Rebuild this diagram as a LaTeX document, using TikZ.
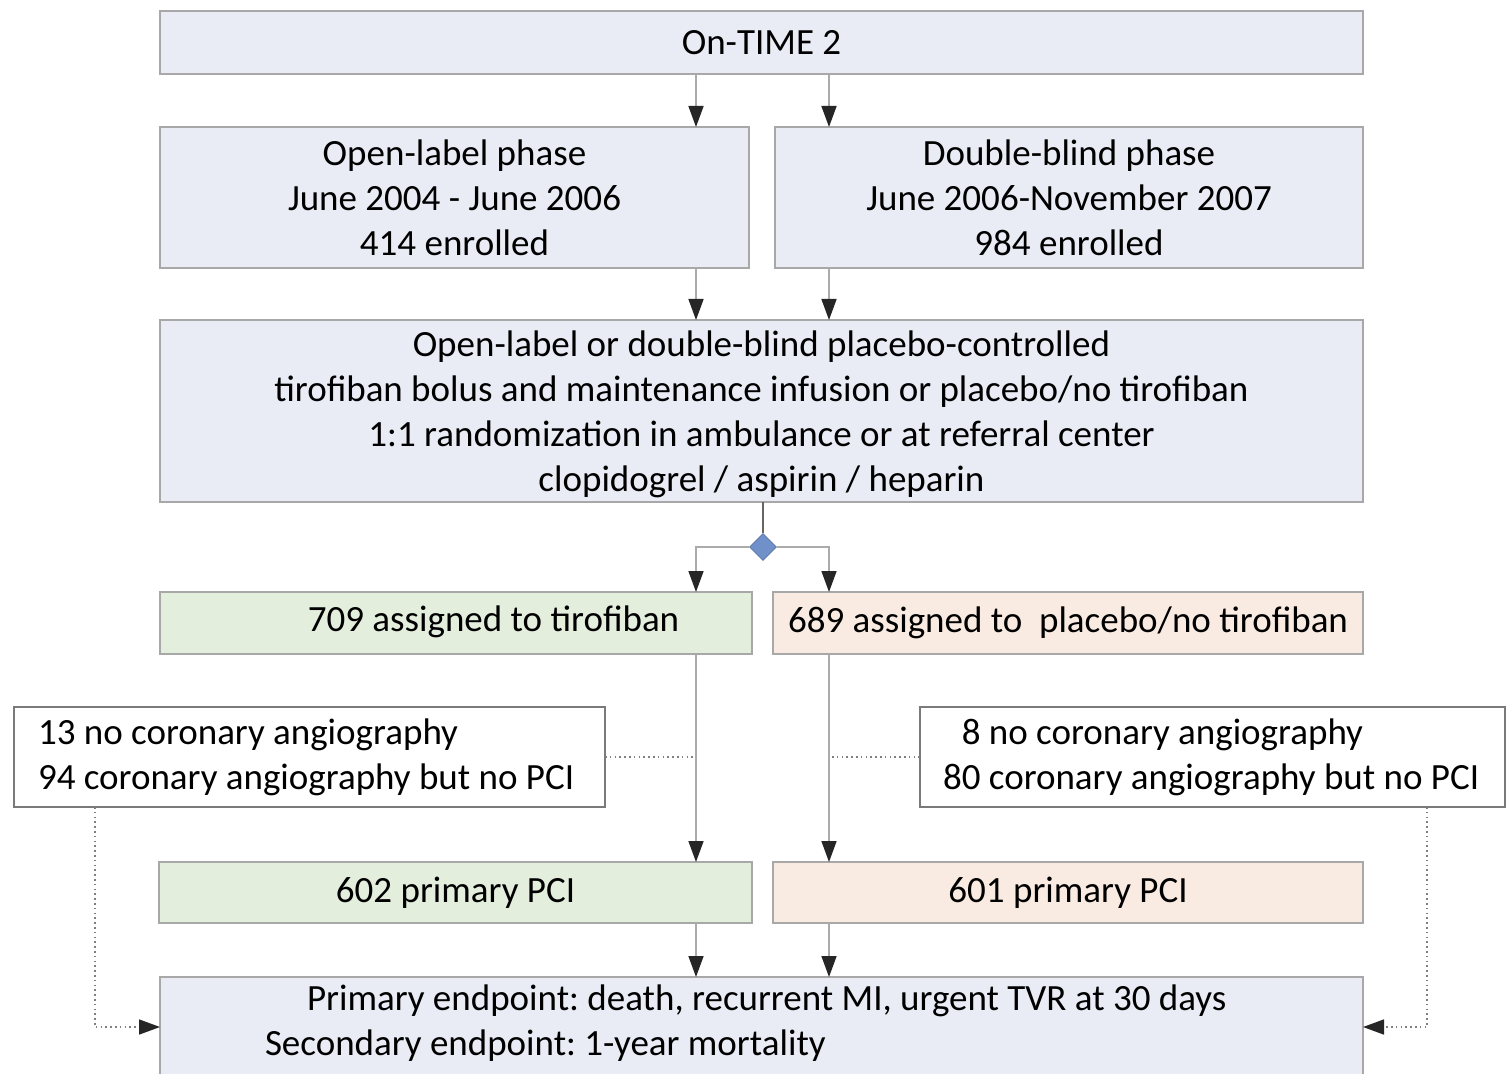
\documentclass[tikz,border=0pt]{standalone}
\usepackage{fontspec}
\setmainfont{Carlito}
\usetikzlibrary{arrows.meta,shapes.geometric}
\definecolor{boxblue}{HTML}{E9ECF5}
\definecolor{boxgreen}{HTML}{E3EEDD}
\definecolor{boxpeach}{HTML}{F9EBE1}
\definecolor{boxedge}{HTML}{A8A8A8}
\definecolor{whiteedge}{HTML}{7A7A7A}
\definecolor{linegray}{HTML}{ABABAB}
\definecolor{tipgray}{HTML}{262626}
\definecolor{diafill}{HTML}{7090CA}
\frenchspacing
\begin{document}
\begin{tikzpicture}[x=0.5pt,y=-0.5pt,
  font=\fontsize{18.5}{22.5}\selectfont,
  basebox/.style={draw=boxedge, line width=0.8pt, inner sep=0pt, outer sep=0pt, align=center},
  bluebox/.style={basebox, fill=boxblue},
  greenbox/.style={basebox, fill=boxgreen},
  peachbox/.style={basebox, fill=boxpeach},
  whitebox/.style={basebox, draw=whiteedge, fill=white},
  txt/.style={inner sep=0pt, outer sep=0pt, align=left, anchor=west},
  arr/.style={draw=linegray, line width=0.8pt, -{Triangle[length=10.5pt,width=7.5pt,color=tipgray]}},
  plainline/.style={draw=linegray, line width=0.8pt},
  darkline/.style={draw=gray!80!black, line width=0.8pt},
  dotline/.style={draw=gray, line width=0.8pt, dash pattern=on 0.8pt off 1.6pt},
  dotarr/.style={dotline, -{Triangle[length=10.5pt,width=7.5pt,color=tipgray]}},
  dia/.style={diamond, fill=diafill, draw=diafill!80!black, line width=0.4pt, minimum size=13.5pt, inner sep=0pt}
]
\useasboundingbox (0,0) rectangle (1507,1074);
\fill[white] (0,0) rectangle (1507,1074);

\coordinate (xl) at (696,0);
\coordinate (xr) at (829,0);
\coordinate (lx) at (95,0);
\coordinate (rx) at (1427,0);
\coordinate (ey) at (0,1027);

\node[bluebox, minimum width=601.5pt, minimum height=31.5pt] (top) at (761.5,42.5) {On-TIME 2};
\node[bluebox, minimum width=294.5pt, minimum height=70.5pt] (open) at (454.5,197.5)
  {Open-label phase\\June 2004 - June 2006\\414 enrolled};
\node[bluebox, minimum width=294pt, minimum height=70.5pt] (dbl) at (1069,197.5)
  {Double-blind phase\\June 2006-November 2007\\984 enrolled};
\node[bluebox, minimum width=601.5pt, minimum height=91pt] (big) at (761.5,411) {};
\node[inner sep=0pt, align=center] (bigT) at (761.5,414.5)
  {Open-label or double-blind placebo-controlled\\tirofiban bolus and maintenance infusion or placebo/no tirofiban\\1:1 randomization in ambulance or at referral center\\clopidogrel / aspirin / heparin};
\node[dia] (d) at (763,547) {};

\node[greenbox, minimum width=296pt, minimum height=31pt] (tiro) at (456,623) {};
\node[inner sep=0pt] (tiroT) at (493.5,622) {709 assigned to tirofiban};
\node[peachbox, minimum width=295pt, minimum height=31pt] (plac) at (1068,623) {689 assigned to\ \ placebo/no tirofiban};

\node[whitebox, minimum width=295.5pt, minimum height=50pt] (leftw) at (309.5,757) {};
\node[txt] (leftT) at (38,757) {13 no coronary angiography\\94 coronary angiography but no PCI};
\node[whitebox, minimum width=292.5pt, minimum height=50pt] (rightw) at (1212.5,757) {};
\node[txt] (rightT) at (943,757) {\hphantom{0}8 no coronary angiography\\80 coronary angiography but no PCI};

\node[greenbox, minimum width=296.5pt, minimum height=30.5pt] (pci1) at (455.5,892.5) {602 primary PCI};
\node[peachbox, minimum width=295pt, minimum height=30.5pt] (pci2) at (1068,892.5) {601 primary PCI};

\node[bluebox, minimum width=601.5pt, minimum height=56.5pt] (bot) at (761.5,1033.5) {};
\node[txt] (botT) at (265,1023.5) {\hspace*{21pt}Primary endpoint: death, recurrent MI, urgent TVR at 30 days\\Secondary endpoint: 1-year mortality};

% connectors
\draw[arr] (top.south -| xl) -- (open.north -| xl);
\draw[arr] (top.south -| xr) -- (dbl.north -| xr);
\draw[arr] (open.south -| xl) -- (big.north -| xl);
\draw[arr] (dbl.south -| xr) -- (big.north -| xr);
\draw[darkline] (d |- big.south) -- (d.north);
\draw[arr] (d.west) -| (tiro.north -| xl);
\draw[arr] (d.east) -| (plac.north -| xr);
\draw[arr] (tiro.south -| xl) -- (pci1.north -| xl);
\draw[arr] (plac.south -| xr) -- (pci2.north -| xr);
\draw[dotline] (leftw.east) -- (leftw.east -| xl);
\draw[dotline] (rightw.west) -- (rightw.west -| xr);
\draw[arr] (pci1.south -| xl) -- (bot.north -| xl);
\draw[arr] (pci2.south -| xr) -- (bot.north -| xr);
\draw[dotarr] (leftw.south -| lx) |- (bot.west |- ey);
\draw[dotarr] (rightw.south -| rx) |- (bot.east |- ey);
\end{tikzpicture}
\end{document}
